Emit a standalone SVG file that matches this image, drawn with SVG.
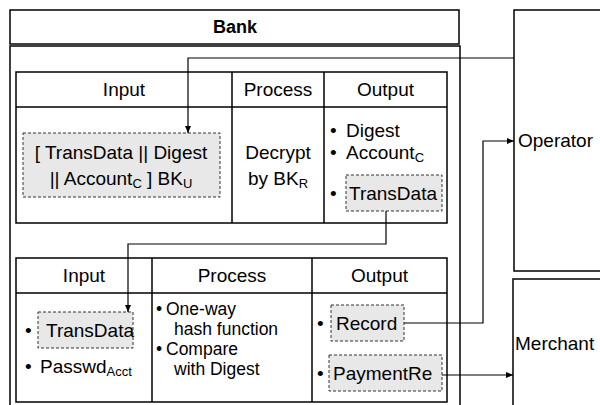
<svg xmlns="http://www.w3.org/2000/svg" width="600" height="405" viewBox="0 0 600 405">
<style>
  .box { fill: #ffffff; stroke: #000; stroke-width: 1.5; }
  .ln { stroke: #000; stroke-width: 1.5; fill: none; }
  .dash { fill: #e8e8e8; stroke: #333; stroke-width: 1; stroke-dasharray: 3 2; }
  .conn { stroke: #000; stroke-width: 1.2; fill: none; }
  text { font-family: "Liberation Sans", Arial, sans-serif; font-size: 19px; fill: #000; }
  .c { text-anchor: middle; }
  .b { font-weight: bold; font-size: 18px; }
  .sub { font-size: 13px; }
  .sm { font-size: 17.5px; }
</style>
<defs>
  <marker id="arr" markerWidth="8" markerHeight="8" refX="7" refY="4" orient="auto" markerUnits="userSpaceOnUse">
    <path d="M0,1 L7,4 L0,7 Z" fill="#000"/>
  </marker>
</defs>
<rect width="600" height="405" fill="#fff"/>

<g id="bank">
  <rect class="box" x="10" y="10" width="449" height="34"/>
  <rect class="box" x="10" y="46" width="450" height="370"/>
  <text class="c b" x="235" y="33">Bank</text>
</g>

<g id="operator">
  <rect class="box" x="514" y="10" width="100" height="261"/>
  <text x="518" y="147">Operator</text>
</g>

<g id="merchant">
  <rect class="box" x="513" y="279" width="100" height="140"/>
  <text x="515" y="350">Merchant</text>
</g>

<g id="decrypt-table">
  <rect class="box" x="16" y="72" width="431" height="151"/>
  <line class="ln" x1="16" y1="107" x2="447" y2="107"/>
  <line class="ln" x1="232" y1="72" x2="232" y2="223"/>
  <line class="ln" x1="324" y1="72" x2="324" y2="223"/>
  <text class="c" x="124" y="96">Input</text>
  <text class="c" x="278" y="96">Process</text>
  <text class="c" x="385.5" y="96">Output</text>
  <rect class="dash" x="23" y="133" width="197" height="64"/>
  <text class="c" x="121" y="159">[ TransData || Digest</text>
  <text class="c" x="121" y="185">|| Account<tspan class="sub" dy="3">C</tspan><tspan dy="-3"> ] BK</tspan><tspan class="sub" dy="3">U</tspan></text>
  <text class="c" x="278" y="159">Decrypt</text>
  <text class="c" x="278" y="185">by BK<tspan class="sub" dy="3">R</tspan></text>
  <text x="330" y="137">•<tspan x="346">Digest</tspan><tspan x="330" y="159">•</tspan><tspan x="346" y="159">Account</tspan><tspan class="sub" dy="3">C</tspan></text>
  <rect class="dash" x="346" y="175" width="96" height="36"/>
  <text x="330" y="200">•</text>
  <text x="349" y="200">TransData</text>
</g>

<g id="hash-table">
  <rect class="box" x="16" y="258" width="431" height="144"/>
  <line class="ln" x1="16" y1="293" x2="447" y2="293"/>
  <line class="ln" x1="152" y1="258" x2="152" y2="402"/>
  <line class="ln" x1="312" y1="258" x2="312" y2="402"/>
  <text class="c" x="84" y="282">Input</text>
  <text class="c" x="232" y="282">Process</text>
  <text class="c" x="379.5" y="282">Output</text>
  <rect class="dash" x="38" y="312" width="95" height="36"/>
  <text x="25" y="337">•</text>
  <text x="46" y="337">TransData</text>
  <text x="25" y="373">•</text>
  <text x="40" y="373">Passwd<tspan class="sub" dy="3">Acct</tspan></text>
  <text class="sm" x="156" y="315">•</text>
  <text class="sm" x="166" y="315">One-way</text>
  <text class="sm" x="174" y="335">hash function</text>
  <text class="sm" x="156" y="355">•</text>
  <text class="sm" x="166" y="355">Compare</text>
  <text class="sm" x="174" y="375">with Digest</text>
  <rect class="dash" x="331" y="305" width="73" height="36"/>
  <text x="317" y="330">•</text>
  <text x="336" y="330">Record</text>
  <rect class="dash" x="329" y="355" width="113" height="36"/>
  <text x="317" y="380">•</text>
  <text x="333" y="380">PaymentRe</text>
</g>

<g id="connectors">
  <path class="conn" d="M514,58 H188 V133" marker-end="url(#arr)"/>
  <path class="conn" d="M386,211 V244 H128 V312" marker-end="url(#arr)"/>
  <path class="conn" d="M404,323 H483 V141 H514" marker-end="url(#arr)"/>
  <path class="conn" d="M442,375 H513" marker-end="url(#arr)"/>
</g>
</svg>
